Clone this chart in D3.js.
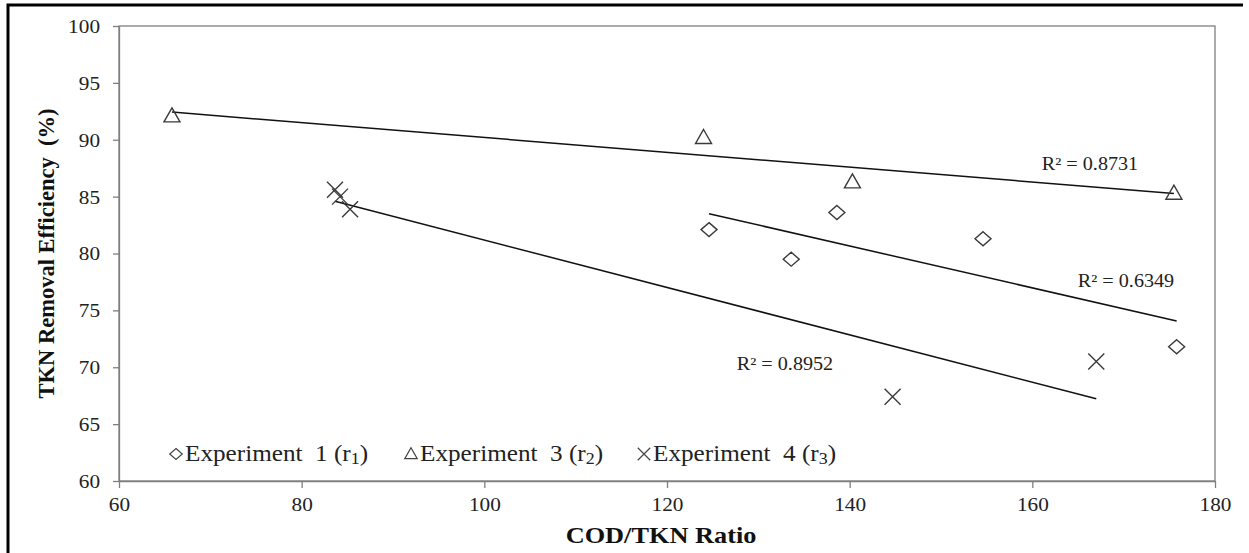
<!DOCTYPE html>
<html>
<head>
<meta charset="utf-8">
<script src="https://cdn.jsdelivr.net/npm/d3@7"></script>
<style>
  body { margin: 0; background: #fff; }
  text { font-family: "Liberation Serif", "Times New Roman", serif; white-space: pre; }
</style>
</head>
<body>
<svg id="chart" width="1249" height="553"></svg>
<script>
// data
const xTicks = [60, 80, 100, 120, 140, 160, 180];
const yTicks = [60, 65, 70, 75, 80, 85, 90, 95, 100];

const exp1X = [124.6, 133.6, 138.6, 154.6, 175.8];
const exp1Y = [82.1, 79.5, 83.6, 81.3, 71.8];
const exp3X = [65.8, 124.0, 140.3, 175.5];
const exp3Y = [92.1, 90.2, 86.3, 85.3];
const exp4X = [83.65, 84.2, 85.3, 144.7, 167.0];
const exp4Y = [85.6, 85.0, 83.9, 67.4, 70.5];

const seriesNames = ["Experiment  1 (r", "Experiment  3 (r", "Experiment  4 (r"];
const seriesSubs = ["1", "2", "3"];
const r2Labels = ["R² = 0.6349", "R² = 0.8731", "R² = 0.8952"];

const svg = d3.select("#chart");
const plotLeft = 119, plotRight = 1215, plotTop = 26, plotBottom = 481;
const sx = 1.12; // the picture is stretched a little sideways

const x = d3.scaleLinear().domain([60, 180]).range([plotLeft, plotRight]);
const y = d3.scaleLinear().domain([60, 100]).range([plotBottom, plotTop]);

// outer frame (top and left visible)
svg.append("path")
  .attr("d", "M8,553 V5 H1243")
  .attr("fill", "none")
  .attr("stroke", "#000")
  .attr("stroke-width", 3);

// plot area border
svg.append("rect")
  .attr("x", plotLeft).attr("y", plotTop)
  .attr("width", plotRight - plotLeft).attr("height", plotBottom - plotTop)
  .attr("fill", "none")
  .attr("stroke", "#7f7f7f")
  .attr("stroke-width", 1.3);

// axes
const gx = svg.append("g")
  .attr("transform", `translate(0,${plotBottom})`)
  .call(d3.axisBottom(x).tickValues(xTicks).tickSize(7).tickSizeOuter(0));
gx.selectAll("text")
  .attr("y", 30).attr("dy", 0)
  .attr("transform", `scale(${sx},1)`)
  .attr("x", 0)
  .style("font-size", "19px")
  .attr("fill", "#222");

const gy = svg.append("g")
  .attr("transform", `translate(${plotLeft},0)`)
  .call(d3.axisLeft(y).tickValues(yTicks).tickSize(6).tickSizeOuter(0));
gy.selectAll("text")
  .attr("x", -19 / sx).attr("dy", "0.34em")
  .attr("transform", `scale(${sx},1)`)
  .style("font-size", "19px")
  .attr("fill", "#222");

[gx, gy].forEach((g) => {
  g.select(".domain").attr("stroke", "#7f7f7f").attr("stroke-width", 1.3);
  g.selectAll(".tick line").attr("stroke", "#7f7f7f").attr("stroke-width", 1.3);
});

// axis titles
svg.append("text")
  .attr("transform", `translate(${(plotLeft + plotRight) / 2 - 6},543) scale(${sx},1)`)
  .attr("text-anchor", "middle")
  .style("font-size", "23.5px")
  .style("font-weight", "bold")
  .attr("fill", "#111")
  .text("COD/TKN Ratio");

svg.append("text")
  .attr("transform", `translate(54,${(plotTop + plotBottom) / 2}) rotate(-90)`)
  .attr("text-anchor", "middle")
  .style("font-size", "22.5px")
  .style("font-weight", "bold")
  .attr("fill", "#111")
  .text("TKN Removal Efficiency  (%)");

// marker shapes
const markers = [
  (s) => `M0,${-7 * s} L${8 * s},0 L0,${7 * s} L${-8 * s},0 Z`,
  (s) => `M0,${-8 * s} L${8 * s},${6 * s} L${-8 * s},${6 * s} Z`,
  (s) => `M${-8 * s},${-8 * s} L${8 * s},${8 * s} M${-8 * s},${8 * s} L${8 * s},${-8 * s}`,
];

const series = [
  { xs: exp1X, ys: exp1Y },
  { xs: exp3X, ys: exp3Y },
  { xs: exp4X, ys: exp4Y },
];

// linear trend lines, fitted from the points
series.forEach((s) => {
  const mx = d3.mean(s.xs), my = d3.mean(s.ys);
  const sxy = d3.sum(s.xs, (v, i) => (v - mx) * (s.ys[i] - my));
  const sxx = d3.sum(s.xs, (v) => (v - mx) * (v - mx));
  const b = sxy / sxx, a = my - b * mx;
  const x0 = d3.min(s.xs), x1 = d3.max(s.xs);
  svg.append("line")
    .attr("x1", x(x0)).attr("y1", y(a + b * x0))
    .attr("x2", x(x1)).attr("y2", y(a + b * x1))
    .attr("stroke", "#111")
    .attr("stroke-width", 1.5);
});

// points
series.forEach((s, k) => {
  svg.append("g")
    .selectAll("path")
    .data(s.xs.map((v, i) => [v, s.ys[i]]))
    .enter()
    .append("path")
    .attr("transform", (d) => `translate(${x(d[0])},${y(d[1])})`)
    .attr("d", markers[k](1))
    .attr("fill", "none")
    .attr("stroke", "#3a3a3a")
    .attr("stroke-width", 1.4);
});

// R² labels
const r2Pos = [[1126, 287], [1090, 170], [785, 370]];
r2Labels.forEach((t, i) => {
  svg.append("text")
    .attr("transform", `translate(${r2Pos[i][0]},${r2Pos[i][1]}) scale(${sx},1)`)
    .attr("text-anchor", "middle")
    .style("font-size", "18px")
    .attr("fill", "#222")
    .text(t);
});

// legend
const legendX = [176, 411, 644];
const legend = svg.append("g");
seriesNames.forEach((name, i) => {
  legend.append("path")
    .attr("transform", `translate(${legendX[i]},454)`)
    .attr("d", markers[i](0.78))
    .attr("fill", "none")
    .attr("stroke", "#444")
    .attr("stroke-width", 1.2);
  const t = legend.append("text")
    .attr("transform", `translate(${legendX[i] + 9},461) scale(${sx},1)`)
    .style("font-size", "22.5px")
    .attr("fill", "#222");
  t.append("tspan").text(name);
  t.append("tspan").attr("dy", 3).style("font-size", "16px").text(seriesSubs[i]);
  t.append("tspan").attr("dy", -3).text(")");
});
</script>
</body>
</html>
